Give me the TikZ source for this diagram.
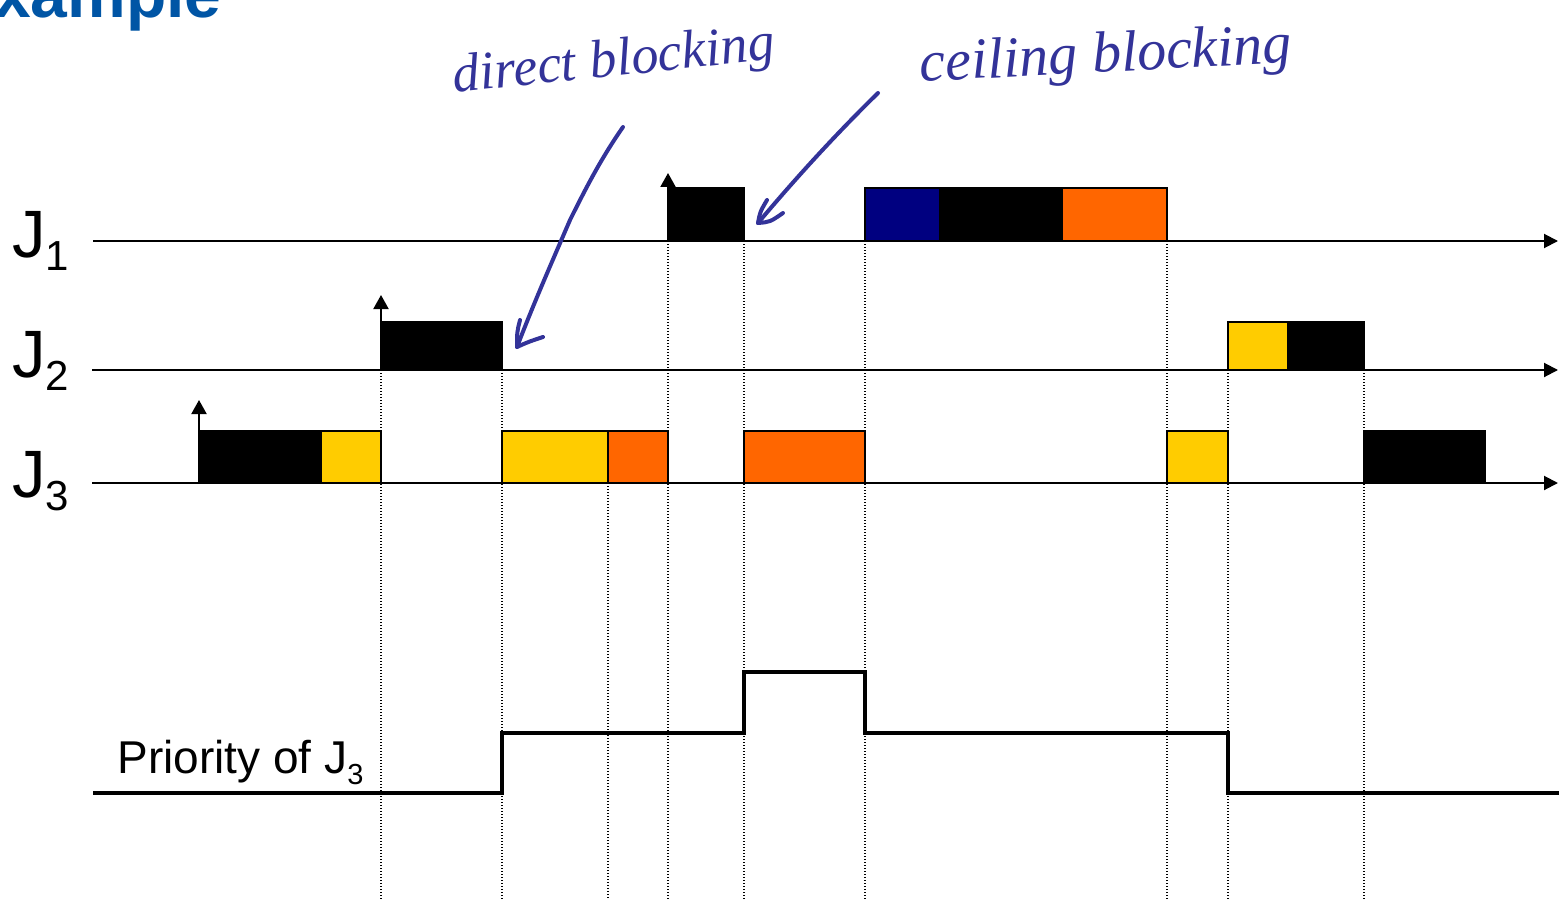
\documentclass[tikz,border=0pt]{standalone}
\usepackage{fontspec}
\setmainfont{Liberation Sans}
\newfontfamily\handfont{Liberation Serif}
\usetikzlibrary{arrows.meta}
\definecolor{jyellow}{HTML}{FFCC00}
\definecolor{jorange}{HTML}{FF6600}
\definecolor{jnavy}{HTML}{000080}
\definecolor{titleblue}{HTML}{0055A5}
\definecolor{handblue}{HTML}{333399}
\newcommand{\jlab}[1]{\fontsize{33.5}{40}\selectfont J\raisebox{-6.5pt}{\fontsize{21}{21}\selectfont #1}}
\begin{document}
\begin{tikzpicture}[x=0.5pt,y=-0.5pt,
  axis/.style={line width=1pt,-{Triangle[length=7pt,width=7pt]}},
  rel/.style={line width=1pt,-{Triangle[length=7pt,width=7.5pt]}},
  guide/.style={line width=0.6pt,dash pattern=on 0.6pt off 0.9pt},
  task/.style={draw=black,line width=0.8pt},
  prio/.style={line width=2.3pt,line join=miter},
  hand/.style={color=handblue,line width=2pt,line cap=round,line join=round},
  handtext/.style={text=handblue,inner sep=0pt}]
\useasboundingbox (0,0) rectangle (1559,899);
\clip (0,0) rectangle (1559,899);

% title (cut off by the frame, as in the reference)
\node[anchor=base east,inner sep=0pt,text=titleblue] (title) at (222,18)
  {\fontsize{33}{40}\selectfont\bfseries Example};

% dotted guides
\foreach \x/\y in {381/370,502/370,608/483,668/241,744/241,865/241,1167/241,1228/370,1364/370}
  \draw[guide] (\x,\y) -- (\x,899);

% J3 boxes
\filldraw[task,fill=black] (199,431) rectangle (321,483);
\filldraw[task,fill=jyellow] (321,431) rectangle (381,483);
\filldraw[task,fill=jyellow] (502,431) rectangle (608,483);
\filldraw[task,fill=jorange] (608,431) rectangle (668,483);
\filldraw[task,fill=jorange] (744,431) rectangle (865,483);
\filldraw[task,fill=jyellow] (1167,431) rectangle (1228,483);
\filldraw[task,fill=black] (1364,431) rectangle (1485,483);
% J2 boxes
\filldraw[task,fill=black] (381,322) rectangle (502,370);
\filldraw[task,fill=jyellow] (1228,322) rectangle (1288,370);
\filldraw[task,fill=black] (1288,322) rectangle (1364,370);
% J1 boxes
\filldraw[task,fill=black] (668,188) rectangle (744,241);
\filldraw[task,fill=jnavy] (865,188) rectangle (940,241);
\filldraw[task,fill=black] (940,188) rectangle (1062,241);
\filldraw[task,fill=jorange] (1062,188) rectangle (1167,241);

% axes
\coordinate (a1s) at (93,241); \coordinate (a1e) at (1558,241);
\coordinate (a2s) at (92,370); \coordinate (a2e) at (1558,370);
\coordinate (a3s) at (92,483); \coordinate (a3e) at (1558,483);
\draw[axis] (a1s) -- (a1e);
\draw[axis] (a2s) -- (a2e);
\draw[axis] (a3s) -- (a3e);

% release arrows
\coordinate (r3) at (199,431); \coordinate (r3t) at (199,400);
\coordinate (r2) at (381,322); \coordinate (r2t) at (381,295);
\coordinate (r1) at (668,188); \coordinate (r1t) at (668,173);
\draw[rel] (r3) -- (r3t);
\draw[rel] (r2) -- (r2t);
\draw[rel] (r1) -- (r1t);

% labels
\node[anchor=base west,inner sep=0pt] (j1) at (12,257) {\jlab{1}};
\node[anchor=base west,inner sep=0pt] (j2) at (12,377) {\jlab{2}};
\node[anchor=base west,inner sep=0pt] (j3) at (12,497) {\jlab{3}};
\node[anchor=base west,inner sep=0pt] (prio) at (117,773)
  {\fontsize{23}{28}\selectfont Priority of J\raisebox{-5.5pt}{\fontsize{14.5}{16}\selectfont 3}};

% priority of J3
\draw[prio] (93,793) -- (502,793) -- (502,733) -- (744,733) -- (744,672) -- (865,672)
  -- (865,733) -- (1228,733) -- (1228,793) -- (1559,793);

% handwritten annotations
\node[handtext,rotate=6] (direct) at (614,63)
  {\handfont\itshape\fontsize{27}{32}\selectfont direct blocking};
\node[handtext,rotate=3] (ceiling) at (1106,58)
  {\handfont\itshape\fontsize{29}{34}\selectfont ceiling blocking};

\coordinate (d0) at (623,127);
\coordinate (d1) at (517,347);
\draw[hand] (d0) .. controls (600,160) and (585,190) .. (570,220)
  .. controls (555,255) and (535,300) .. (d1);
\draw[hand] (520,320) .. controls (517,332) .. (d1) .. controls (528,342) .. (543,337);

\coordinate (c0) at (878,93);
\coordinate (c1) at (758,223);
\draw[hand] (c0) .. controls (830,140) and (790,185) .. (c1);
\draw[hand] (767,200) .. controls (760,212) .. (c1) .. controls (770,222) .. (783,213);
\end{tikzpicture}
\end{document}
